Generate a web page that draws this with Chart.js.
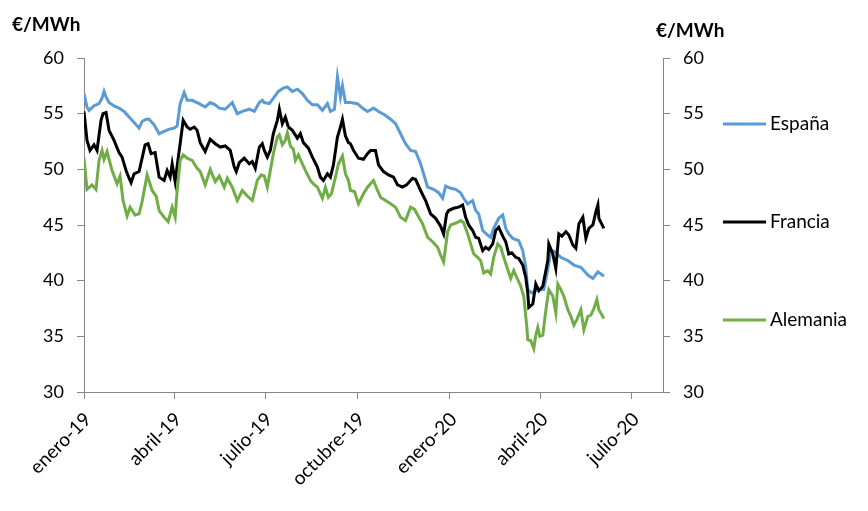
<!DOCTYPE html>
<html>
<head>
<meta charset="utf-8">
<script src="https://cdn.jsdelivr.net/npm/chart.js@4.4.0/dist/chart.umd.min.js"></script>
<style>
  body { margin: 0; background: #fff; }
  #caja { width: 868px; height: 511px; }
</style>
</head>
<body>
<div id="caja"><canvas id="grafico-precios"></canvas></div>
<script>
// dias contados desde el 1 de enero de 2019
var tickDias = [0, 90, 181, 273, 365, 456, 547];
var tickEtiquetas = ['enero-19', 'abril-19', 'julio-19', 'octubre-19', 'enero-20', 'abril-20', 'julio-20'];

var diasEspana = [0, 3, 5, 10, 15, 18, 20, 22, 25, 30, 35, 40, 45, 50, 55, 58, 62, 65, 70, 75, 80, 85, 90, 93, 96, 100, 103, 108, 115, 121, 126, 131, 135, 141, 148, 153, 158, 165, 170, 175, 178, 180, 185, 190, 194, 199, 203, 208, 213, 218, 223, 228, 233, 238, 243, 246, 250, 253, 256, 258, 261, 266, 273, 278, 283, 289, 294, 300, 306, 311, 316, 321, 326, 331, 336, 339, 343, 349, 354, 358, 361, 366, 371, 376, 379, 383, 388, 391, 394, 398, 403, 406, 409, 414, 418, 421, 424, 428, 434, 438, 441, 443, 447, 453, 459, 463, 466, 470, 476, 483, 489, 496, 503, 508, 513, 519];
var espana = [56.8, 55.6, 55.3, 55.7, 55.9, 56.4, 57.0, 56.5, 56.0, 55.7, 55.5, 55.2, 54.7, 54.2, 53.7, 54.3, 54.5, 54.5, 54.0, 53.2, 53.4, 53.6, 53.7, 53.9, 55.9, 56.9, 56.2, 56.2, 55.9, 55.6, 56.0, 55.8, 55.5, 55.4, 56.0, 55.0, 55.2, 55.4, 55.2, 56.0, 56.2, 56.0, 55.9, 56.5, 57.0, 57.3, 57.4, 57.0, 57.2, 56.8, 56.2, 55.8, 55.8, 55.3, 55.9, 55.2, 55.4, 58.3, 56.5, 57.5, 56.0, 56.0, 55.9, 55.5, 55.2, 55.5, 55.2, 54.9, 54.5, 54.1, 53.2, 52.3, 51.7, 51.6, 50.5, 49.6, 48.4, 48.2, 47.9, 47.4, 48.5, 48.3, 48.2, 47.9, 47.4, 46.9, 47.2, 46.3, 46.0, 44.5, 44.1, 43.9, 44.7, 45.6, 45.9, 44.7, 44.2, 43.8, 43.6, 42.7, 41.2, 39.2, 38.9, 39.2, 39.2, 41.0, 42.7, 42.6, 42.1, 41.8, 41.4, 41.2, 40.5, 40.2, 40.8, 40.4];

var diasFrancia = [0, 3, 6, 10, 13, 17, 19, 22, 25, 30, 35, 38, 42, 45, 47, 50, 55, 58, 61, 64, 67, 71, 75, 80, 83, 86, 88, 91, 94, 96, 99, 103, 106, 110, 113, 116, 121, 126, 131, 136, 141, 146, 150, 152, 155, 160, 165, 168, 171, 175, 178, 180, 183, 186, 189, 193, 195, 198, 201, 204, 208, 213, 216, 219, 224, 228, 233, 236, 239, 243, 246, 249, 253, 256, 258, 261, 264, 266, 269, 274, 279, 283, 286, 291, 294, 299, 304, 309, 313, 318, 322, 328, 331, 336, 341, 346, 351, 356, 359, 362, 364, 369, 374, 378, 381, 384, 388, 391, 394, 398, 401, 404, 408, 411, 414, 418, 421, 424, 427, 431, 434, 438, 441, 443, 444, 448, 451, 454, 458, 463, 464, 468, 471, 474, 477, 481, 484, 488, 491, 494, 498, 501, 504, 508, 511, 513, 514, 519];
var francia = [55.2, 52.6, 51.7, 52.2, 51.7, 54.4, 55.0, 55.1, 53.5, 52.6, 51.5, 51.1, 49.9, 49.2, 48.8, 49.6, 49.8, 51.0, 52.2, 52.3, 51.4, 51.5, 49.3, 49.0, 49.9, 49.3, 50.5, 48.9, 51.0, 52.3, 54.4, 53.8, 53.6, 53.8, 53.5, 52.4, 51.6, 52.7, 52.3, 52.0, 52.1, 51.7, 50.2, 49.8, 50.6, 51.0, 50.5, 50.7, 50.1, 52.0, 52.3, 51.7, 51.1, 51.7, 53.2, 54.4, 55.4, 54.1, 54.7, 53.8, 53.5, 52.8, 53.2, 52.4, 51.9, 51.1, 50.2, 49.3, 49.0, 49.6, 49.3, 50.4, 52.9, 53.8, 54.5, 53.0, 52.4, 52.3, 51.7, 51.0, 50.9, 51.4, 51.7, 51.7, 50.4, 49.8, 49.5, 49.3, 48.6, 48.4, 48.6, 49.2, 49.1, 48.1, 47.2, 46.0, 45.6, 44.9, 44.2, 46.0, 46.3, 46.5, 46.6, 46.8, 45.7, 45.0, 44.5, 43.9, 43.8, 42.7, 43.0, 42.8, 43.3, 44.5, 44.8, 44.0, 43.5, 42.4, 42.5, 42.1, 42.0, 41.4, 40.3, 38.9, 37.6, 37.9, 39.7, 39.1, 39.5, 41.8, 43.3, 42.4, 41.1, 44.2, 44.0, 44.4, 44.1, 43.2, 42.9, 45.1, 45.7, 43.8, 44.7, 45.0, 46.2, 46.8, 45.6, 44.7];

var diasAlemania = [0, 3, 8, 12, 15, 18, 20, 23, 28, 33, 36, 39, 43, 46, 51, 55, 58, 63, 68, 72, 75, 80, 84, 88, 91, 93, 96, 99, 103, 108, 113, 116, 121, 126, 131, 135, 140, 143, 148, 153, 158, 163, 168, 173, 177, 180, 183, 186, 189, 193, 195, 198, 201, 203, 206, 209, 211, 214, 218, 221, 226, 229, 233, 236, 238, 241, 244, 247, 251, 254, 258, 261, 264, 266, 270, 274, 279, 283, 286, 289, 293, 296, 301, 306, 311, 316, 321, 326, 330, 333, 338, 343, 348, 353, 356, 359, 363, 366, 369, 372, 376, 379, 383, 386, 389, 393, 396, 399, 403, 406, 409, 413, 416, 419, 423, 426, 429, 433, 436, 439, 442, 443, 446, 449, 451, 453, 455, 458, 461, 464, 468, 471, 473, 476, 479, 483, 486, 489, 492, 496, 499, 503, 506, 509, 512, 514, 519];
var alemania = [51.0, 48.2, 48.6, 48.2, 50.8, 51.7, 50.9, 51.6, 49.9, 48.7, 49.4, 47.2, 45.8, 46.6, 45.9, 46.0, 47.1, 49.5, 48.1, 47.6, 46.3, 45.7, 45.3, 46.6, 45.7, 48.1, 50.8, 51.3, 51.0, 50.8, 50.1, 49.8, 48.6, 50.0, 48.9, 49.4, 48.4, 49.2, 48.4, 47.2, 48.1, 47.6, 47.2, 49.0, 49.5, 49.4, 48.4, 49.9, 51.4, 52.9, 53.1, 52.2, 52.6, 53.3, 52.1, 51.8, 50.8, 51.3, 50.5, 49.9, 49.0, 48.7, 48.4, 47.8, 47.4, 48.4, 47.5, 47.8, 49.3, 50.5, 51.2, 49.6, 49.0, 48.1, 48.0, 46.9, 47.8, 48.4, 48.7, 49.0, 48.1, 47.5, 47.2, 46.9, 46.6, 45.7, 45.4, 46.6, 46.4, 45.9, 45.1, 43.9, 43.5, 43.0, 42.3, 41.7, 44.4, 45.0, 45.1, 45.2, 45.4, 45.2, 44.2, 43.3, 42.4, 42.1, 41.8, 40.7, 40.9, 40.6, 42.1, 43.3, 43.0, 42.1, 41.0, 40.2, 40.9, 40.1, 39.5, 38.6, 35.9, 34.7, 34.6, 33.9, 35.1, 35.8, 35.0, 35.1, 37.3, 39.2, 38.6, 37.1, 39.7, 39.2, 38.6, 37.4, 36.8, 36.0, 36.5, 37.4, 35.6, 36.8, 36.9, 37.5, 38.3, 37.4, 36.6];

function puntos(dias, valores) {
    return dias.map(function (d, i) { return { x: d, y: valores[i] }; });
}

var fuente = "Lato, 'Open Sans', sans-serif";
var gris = '#868686';

// leyenda a la derecha y titulos de los ejes
var extras = {
    id: 'extras',
    afterDraw: function (chart) {
        var ctx = chart.ctx;
        var area = chart.chartArea;
        ctx.save();
        ctx.fillStyle = '#000';
        ctx.textBaseline = 'alphabetic';
        ctx.font = 'bold 19px ' + fuente;
        ctx.textAlign = 'left';
        ctx.fillText('€/MWh', 12, 31);
        ctx.fillText('€/MWh', 656, 37);

        ctx.font = '19px ' + fuente;
        ctx.textBaseline = 'middle';
        chart.data.datasets.forEach(function (ds, i) {
            var y = area.top + 66 + i * 98;
            ctx.strokeStyle = ds.borderColor;
            ctx.lineWidth = 3;
            ctx.beginPath();
            ctx.moveTo(area.right + 60, y);
            ctx.lineTo(area.right + 103, y);
            ctx.stroke();
            ctx.fillText(ds.label, area.right + 107, y);
        });
        ctx.restore();
    }
};

const ctx = document.getElementById('grafico-precios');
var myChart = new Chart(ctx, {
    type: 'line',
    data: {
        datasets: [{
            label: 'España',
            data: puntos(diasEspana, espana),
            borderColor: '#5B9BD5',
            borderWidth: 3,
            pointRadius: 0,
            order: 2
        }, {
            label: 'Francia',
            data: puntos(diasFrancia, francia),
            borderColor: '#000000',
            borderWidth: 3,
            pointRadius: 0,
            order: 1
        }, {
            label: 'Alemania',
            data: puntos(diasAlemania, alemania),
            borderColor: '#70AD47',
            borderWidth: 3,
            pointRadius: 0,
            order: 0
        }]
    },
    options: {
        responsive: true,
        maintainAspectRatio: false,
        animation: false,
        layout: { padding: { top: 58, left: 0, right: 0, bottom: 0 } },
        plugins: {
            legend: { display: false },
            tooltip: { enabled: false }
        },
        scales: {
            x: {
                type: 'linear',
                min: 0,
                max: 578,
                afterBuildTicks: function (scale) {
                    scale.ticks = tickDias.map(function (d) { return { value: d }; });
                },
                afterFit: function (scale) { scale.height = 119; },
                ticks: {
                    autoSkip: false,
                    minRotation: 45,
                    maxRotation: 45,
                    padding: 9,
                    labelOffset: 4,
                    color: '#000',
                    font: { family: fuente, size: 19 },
                    callback: function (value) {
                        return tickEtiquetas[tickDias.indexOf(value)];
                    }
                },
                grid: { display: true, drawOnChartArea: false, tickLength: 7, color: gris },
                border: { color: gris }
            },
            y: {
                position: 'left',
                min: 30,
                max: 60,
                afterFit: function (scale) { scale.width = 84; },
                ticks: { stepSize: 5, padding: 13, color: '#000', font: { family: fuente, size: 18 } },
                grid: { display: true, drawOnChartArea: false, tickLength: 7, color: gris },
                border: { color: gris }
            },
            y2: {
                position: 'right',
                min: 30,
                max: 60,
                afterFit: function (scale) { scale.width = 205; },
                ticks: { stepSize: 5, padding: 13, color: '#000', font: { family: fuente, size: 18 } },
                grid: { display: true, drawOnChartArea: false, tickLength: 7, color: gris },
                border: { color: gris }
            }
        }
    },
    plugins: [extras]
});
</script>
</body>
</html>
